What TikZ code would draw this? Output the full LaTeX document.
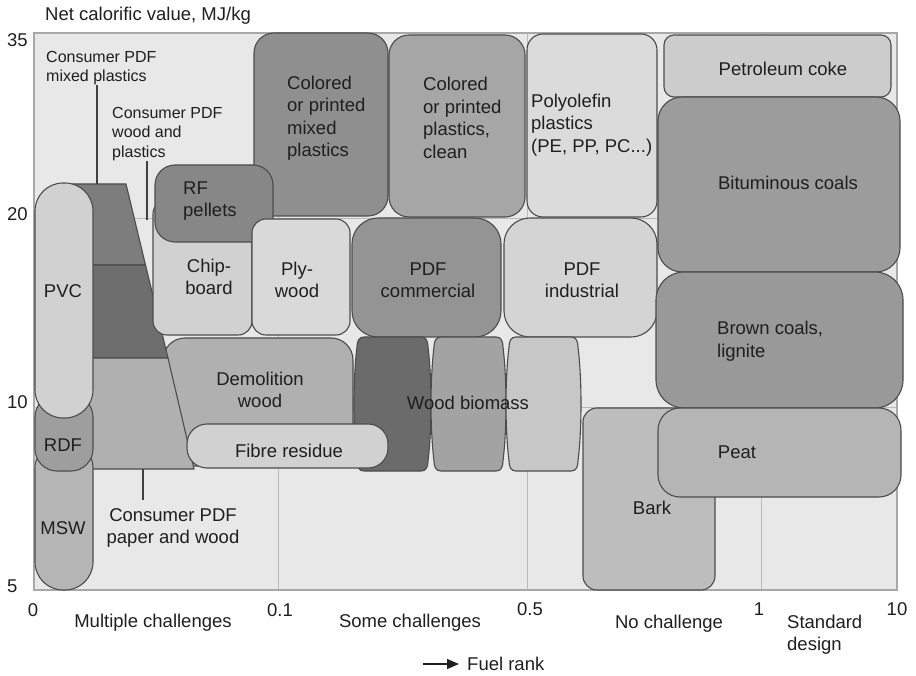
\documentclass[tikz,border=0pt]{standalone}
\usepackage{fontspec}
\setmainfont{Liberation Sans}
\usetikzlibrary{arrows.meta}

\begin{document}
\begin{tikzpicture}[x=1pt, y=-1pt,
        fuel/.style={draw=black!70, line width=1.1pt, rounded corners=18pt,
            inner sep=0pt, outer sep=0pt, anchor=north west},
        piece/.style={draw=black!70, line width=1.1pt},
        lbl/.style={text=black!88, inner sep=0pt, align=center,
            font=\fontsize{18.5}{22.5}\selectfont},
        small/.style={text=black!88, inner sep=0pt, align=left, anchor=west,
            font=\fontsize{16}{19.5}\selectfont},
        tick/.style={text=black!88, inner sep=0pt, anchor=base,
            font=\fontsize{18.5}{22.5}\selectfont},
        lead/.style={draw=black!75, line width=1.1pt},
        gridline/.style={draw=black!27, line width=1pt} ]
    \useasboundingbox (0,0) rectangle (916,676);

    % plot area
    \fill[black!9] (34,33) rectangle (897,590);
    \foreach \gx in {278,527,761}
        \draw[gridline] (\gx,33) -- (\gx,590);
    \foreach \gy in {219,407}
        \draw[gridline] (34,\gy) -- (897,\gy);
    \draw[black!34, line width=1.3pt] (34,33) rectangle (897,590);

    % consumer PDF wedge
    \node[fuel, fill=black!31, rounded corners=22pt, minimum width=190pt, minimum height=128pt] (demol) at (163,338) {};
    \draw[piece, fill=black!51] (70,184) -- (126,184) -- (145.5,265) -- (70,265) -- cycle;
    \draw[piece, fill=black!57] (70,265) -- (145.5,265) -- (168,358) -- (70,358) -- cycle;
    \draw[piece, fill=black!31] (70,358) -- (168,358) -- (194,469) -- (70,469) -- cycle;

    % waste column
    \node[fuel, fill=black!29, rounded corners=28pt, minimum width=58pt, minimum height=150pt] (msw) at (35,440) {};
    \node[fuel, fill=black!38, rounded corners=22pt, minimum width=58pt, minimum height=76pt] (rdf) at (35,395) {};
    \node[fuel, fill=black!18, rounded corners=28pt, minimum width=58pt, minimum height=235pt] (pvc) at (35,183) {};

    % plastics and wood products
    \node[fuel, fill=black!44, rounded corners=20pt, minimum width=134pt, minimum height=183pt] (mixed) at (254,33) {};
    \node[fuel, fill=black!35, rounded corners=20pt, minimum width=136pt, minimum height=182pt] (clean) at (389,35) {};
    \node[fuel, fill=black!14, rounded corners=16pt, minimum width=130pt, minimum height=183pt] (polyo) at (527,34) {};
    \node[fuel, fill=black!18, rounded corners=14pt, minimum width=99pt, minimum height=135pt] (chip) at (153,200) {};
    \node[fuel, fill=black!47, rounded corners=20pt, minimum width=118pt, minimum height=77pt] (rfp) at (155,165) {};
    \node[fuel, fill=black!15, rounded corners=14pt, minimum width=98pt, minimum height=116pt] (ply) at (252,219) {};
    \node[fuel, fill=black!42, rounded corners=26pt, minimum width=149pt, minimum height=119pt] (pdfcom) at (352,218) {};
    \node[fuel, fill=black!17, rounded corners=26pt, minimum width=153pt, minimum height=119pt] (pdfind) at (504,218) {};

    % wood biomass barrels
    \foreach \bl/\br/\bc in {357/428/58, 434/503/36, 509/578/22}
        \draw[piece, fill=black!\bc]
            ({\bl+7},337) -- ({\br-7},337)
            .. controls ({\br-2},337) and (\br,341) .. (\br,347)
            .. controls ({\br+4},380) and ({\br+4},428) .. (\br,461)
            .. controls (\br,467) and ({\br-2},471) .. ({\br-7},471)
            -- ({\bl+7},471)
            .. controls ({\bl+2},471) and (\bl,467) .. (\bl,461)
            .. controls ({\bl-4},428) and ({\bl-4},380) .. (\bl,347)
            .. controls (\bl,341) and ({\bl+2},337) .. ({\bl+7},337) -- cycle;
    \node[fuel, fill=black!18, rounded corners=20pt, minimum width=201pt, minimum height=44pt] (fibre) at (187,424) {};

    % conventional fuels
    \node[fuel, fill=black!26, rounded corners=14pt, minimum width=132pt, minimum height=182pt] (bark) at (583,408) {};
    \node[fuel, fill=black!20, rounded corners=10pt, minimum width=227pt, minimum height=62pt] (coke) at (664,35) {};
    \node[fuel, fill=black!39, rounded corners=24pt, minimum width=242pt, minimum height=175pt] (bitum) at (658,97) {};
    \node[fuel, fill=black!40, rounded corners=28pt, minimum width=247pt, minimum height=136pt] (brown) at (656,272) {};
    \node[fuel, fill=black!29, rounded corners=22pt, minimum width=243pt, minimum height=89pt] (peat) at (658,408) {};

    % box texts
    \node[lbl] (pvctxt) at (63,291) {PVC};
    \node[lbl] (rdftxt) at (63,445) {RDF};
    \node[lbl] (mswtxt) at (63,528) {MSW};
    \node[lbl] (chiptxt) at (209,277) {Chip-\\board};
    \node[lbl, align=left, anchor=west] (rfptxt) at (183,201) {RF\\pellets};
    \node[lbl] (plytxt) at (297,280) {Ply-\\wood};
    \node[lbl, align=left, anchor=west] (mixedtxt) at (287,118) {Colored\\or printed\\mixed\\plastics};
    \node[lbl, align=left, anchor=west] (cleantxt) at (423,118) {Colored\\or printed\\plastics,\\clean};
    \node[lbl, align=left, anchor=west] (polyotxt) at (531,125) {Polyolefin\\plastics\\(PE, PP, PC...)};
    \node[lbl] (pdfcomtxt) at (428,280) {PDF\\commercial};
    \node[lbl] (pdfindtxt) at (582,280) {PDF\\industrial};
    \node[lbl] (demoltxt) at (260,390) {Demolition\\wood};
    \node[lbl] (fibretxt) at (289,451) {Fibre residue};
    \node[lbl] (woodtxt) at (468,403) {Wood biomass};
    \node[lbl] (barktxt) at (652,508) {Bark};
    \node[lbl] (coketxt) at (783,69) {Petroleum coke};
    \node[lbl] (bitumtxt) at (788,183) {Bituminous coals};
    \node[lbl, align=left, anchor=west] (browntxt) at (717,341) {Brown coals,\\lignite};
    \node[lbl] (peattxt) at (737,452) {Peat};

    % consumer PDF labels and leaders
    \node[small] (cmix) at (46,68) {Consumer PDF\\mixed plastics};
    \node[small] (cwood) at (112,134) {Consumer PDF\\wood and\\plastics};
    \node[lbl] (cpaper) at (173,528) {Consumer PDF\\paper and wood};
    \coordinate (mixtip) at (97,184);
    \coordinate (woodtip) at (147,220);
    \coordinate (papertip) at (143,469);
    \coordinate (paperfoot) at (143,500);
    \draw[lead] (mixtip |- cmix.south) -- (mixtip);
    \draw[lead] (woodtip |- cwood.south) -- (woodtip);
    \draw[lead] (paperfoot) -- (papertip);

    % axes
    \node[lbl, anchor=base west] (ytitle) at (45,21) {Net calorific value, MJ/kg};
    \node[tick, anchor=base west] (y35) at (7,47) {35};
    \node[tick, anchor=base west] (y20) at (7,221) {20};
    \node[tick, anchor=base west] (y10) at (7,408) {10};
    \node[tick, anchor=base west] (y5) at (7,592) {5};
    \node[tick] (x0) at (33,616) {0};
    \node[tick] (x01) at (280,616) {0.1};
    \node[tick] (x05) at (530,615) {0.5};
    \node[tick] (x1) at (759,615) {1};
    \node[tick] (x10) at (897,615) {10};
    \node[tick] (multi) at (153,627) {Multiple challenges};
    \node[tick] (some) at (410,627) {Some challenges};
    \node[tick] (none) at (669,628) {No challenge};
    \node[tick, anchor=base west] (stand) at (787,628) {Standard};
    \node[tick, anchor=base west] (stand2) at (787,650) {design};
    \node[tick, anchor=base west] (rank) at (467,670) {Fuel rank};
    \coordinate (rankfrom) at (423,664);
    \coordinate (rankto) at (459,664);
    \draw[line width=1.2pt, black!88, -{Triangle[length=12pt, width=10pt]}] (rankfrom) -- (rankto);
\end{tikzpicture}
\end{document}
